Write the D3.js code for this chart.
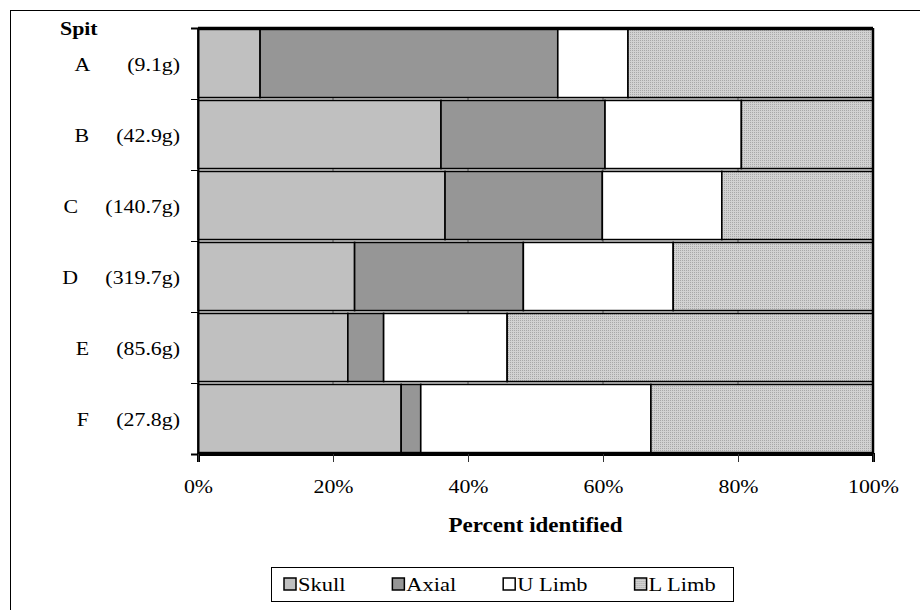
<!DOCTYPE html>
<html>
<head>
<meta charset="utf-8">
<script src="https://cdn.jsdelivr.net/npm/d3@7"></script>
<style>
  body { margin: 0; background: #fff; }
  svg text { font-family: "Liberation Serif", "DejaVu Serif", "Times New Roman", serif; fill: #000; }
</style>
</head>
<body>
<div id="chart"></div>
<script>
// spits (top to bottom) with the sample weight shown in the label
var spits = ["A", "B", "C", "D", "E", "F"];
var spitLabels = ["A       (9.1g)", "B     (42.9g)", "C     (140.7g)", "D     (319.7g)", "E     (85.6g)", "F     (27.8g)"];
var parts = ["Skull", "Axial", "U Limb", "L Limb"];

// percent of identified bone per element group
var skull  = [9.2, 36.0, 36.6, 23.2, 22.2, 30.1];
var axial  = [44.1, 24.3, 23.3, 25.0, 5.3, 2.9];
var uLimb  = [10.4, 20.2, 17.7, 22.2, 18.3, 34.1];
var lLimb  = [36.3, 19.5, 22.4, 29.6, 54.2, 32.9];
var xTicks = [0, 20, 40, 60, 80, 100];

var FONT = '"Liberation Serif", "DejaVu Serif", "Times New Roman", serif';

var W = 920, H = 610;
var margin = {top: 28, right: 47, bottom: 156, left: 198},
    width = W - margin.left - margin.right,
    height = H - margin.top - margin.bottom;

var rows = spits.map(function(s, i) {
    return {spit: s, "Skull": skull[i], "Axial": axial[i], "U Limb": uLimb[i], "L Limb": lLimb[i]};
});

var svg = d3.select("#chart").append("svg")
    .attr("width", W)
    .attr("height", H)
    .attr("font-family", FONT);

// fine dither for L Limb
var pat = svg.append("defs").append("pattern")
    .attr("id", "llimb")
    .attr("patternUnits", "userSpaceOnUse")
    .attr("width", 2)
    .attr("height", 2);
pat.append("rect").attr("width", 2).attr("height", 2).attr("fill", "#d2d2d2");
pat.append("rect").attr("width", 1).attr("height", 1).attr("fill", "#a8a8a8");

var colors = {"Skull": "#c0c0c0", "Axial": "#969696", "U Limb": "#ffffff", "L Limb": "url(#llimb)"};

// outer frame (runs off the right and bottom of the picture)
svg.append("rect")
    .attr("x", 10.5).attr("y", 10.5)
    .attr("width", 1000).attr("height", 1000)
    .attr("fill", "none").attr("stroke", "#000").attr("stroke-width", 1);

var g = svg.append("g")
    .attr("transform", "translate(" + margin.left + "," + margin.top + ")");

var x = d3.scaleLinear().domain([0, 100]).range([0, width]);
var y = d3.scaleBand().domain(spits).range([0, height]).paddingInner(0.04).paddingOuter(0.02);
var yEdge = d3.scaleLinear().domain([0, spits.length]).range([0, height]);

// gridlines behind the bars
g.selectAll(".grid")
    .data(xTicks)
    .enter().append("line")
    .attr("x1", function(d) { return x(d); })
    .attr("x2", function(d) { return x(d); })
    .attr("y1", 0).attr("y2", height)
    .attr("stroke", "#777").attr("stroke-width", 1);

var series = d3.stack().keys(parts)(rows);

g.selectAll(".layer")
    .data(series)
    .enter().append("g")
    .attr("class", "layer")
    .attr("fill", function(d) { return colors[d.key]; })
    .selectAll("rect")
    .data(function(d) { return d; })
    .enter().append("rect")
    .attr("x", function(d) { return x(d[0]); })
    .attr("y", function(d) { return y(d.data.spit); })
    .attr("width", function(d) { return x(d[1]) - x(d[0]); })
    .attr("height", y.bandwidth())
    .attr("stroke", "#000")
    .attr("stroke-width", 1.6);

// plot frame top and right
g.append("line").attr("x1", 0).attr("x2", width).attr("y1", 0).attr("y2", 0)
    .attr("stroke", "#000").attr("stroke-width", 2.5);
g.append("line").attr("x1", width).attr("x2", width).attr("y1", 0).attr("y2", height)
    .attr("stroke", "#000").attr("stroke-width", 2.5);

// y axis: ticks between categories
var yAx = g.append("g")
    .call(d3.axisLeft(yEdge).tickValues(d3.range(spits.length + 1)).tickSize(7).tickFormat(""));
yAx.select(".domain").attr("stroke-width", 2);

// y labels
var yLab = g.append("g")
    .call(d3.axisLeft(y).tickSize(0).tickPadding(18).tickFormat(function(d, i) { return spitLabels[i]; }));
yLab.select(".domain").remove();
yLab.selectAll("text")
    .style("white-space", "pre")
    .attr("font-size", 19)
    .attr("dy", "0.4em");

// x axis
var xAx = g.append("g")
    .attr("transform", "translate(0," + height + ")")
    .call(d3.axisBottom(x).tickValues(xTicks).tickSize(8).tickPadding(18).tickFormat(function(d) { return d + "%"; }));
xAx.select(".domain").attr("stroke-width", 3);
xAx.selectAll(".tick line").attr("stroke", "#333");
xAx.selectAll("text").attr("font-size", 19);

svg.append("text")
    .attr("x", 60).attr("y", 35)
    .attr("font-size", 19)
    .attr("font-weight", "bold")
    .text("Spit");

svg.append("text")
    .attr("x", margin.left + width / 2).attr("y", 532)
    .attr("text-anchor", "middle")
    .attr("font-size", 20)
    .attr("font-weight", "bold")
    .text("Percent identified");

// legend
var legend = svg.append("g").attr("transform", "translate(271,567)");
legend.append("rect")
    .attr("x", 0.5).attr("y", 0.5)
    .attr("width", 462).attr("height", 34)
    .attr("fill", "#fff").attr("stroke", "#000").attr("stroke-width", 1);

var items = legend.selectAll(".item")
    .data(parts)
    .enter().append("g")
    .attr("class", "item");
items.append("rect")
    .attr("y", 11)
    .attr("width", 12).attr("height", 12)
    .attr("fill", function(d) { return colors[d]; })
    .attr("stroke", "#000").attr("stroke-width", 1.5);
items.append("text")
    .attr("x", 14).attr("y", 24)
    .attr("font-size", 19.5)
    .text(function(d) { return d; });

// stretch all text a little wider, as in the source
var STRETCH = 1.15;
svg.selectAll("text").each(function() {
    var len = this.getComputedTextLength();
    if (len > 0) {
        d3.select(this).attr("textLength", len * STRETCH).attr("lengthAdjust", "spacingAndGlyphs");
    }
});

// lay legend items out one after another by their width
var lx = 13;
items.each(function() {
    var w = d3.select(this).select("text").attr("textLength");
    d3.select(this).attr("transform", "translate(" + lx + ",0)");
    lx += 14 + (+w) + 47;
});
</script>
</body>
</html>
